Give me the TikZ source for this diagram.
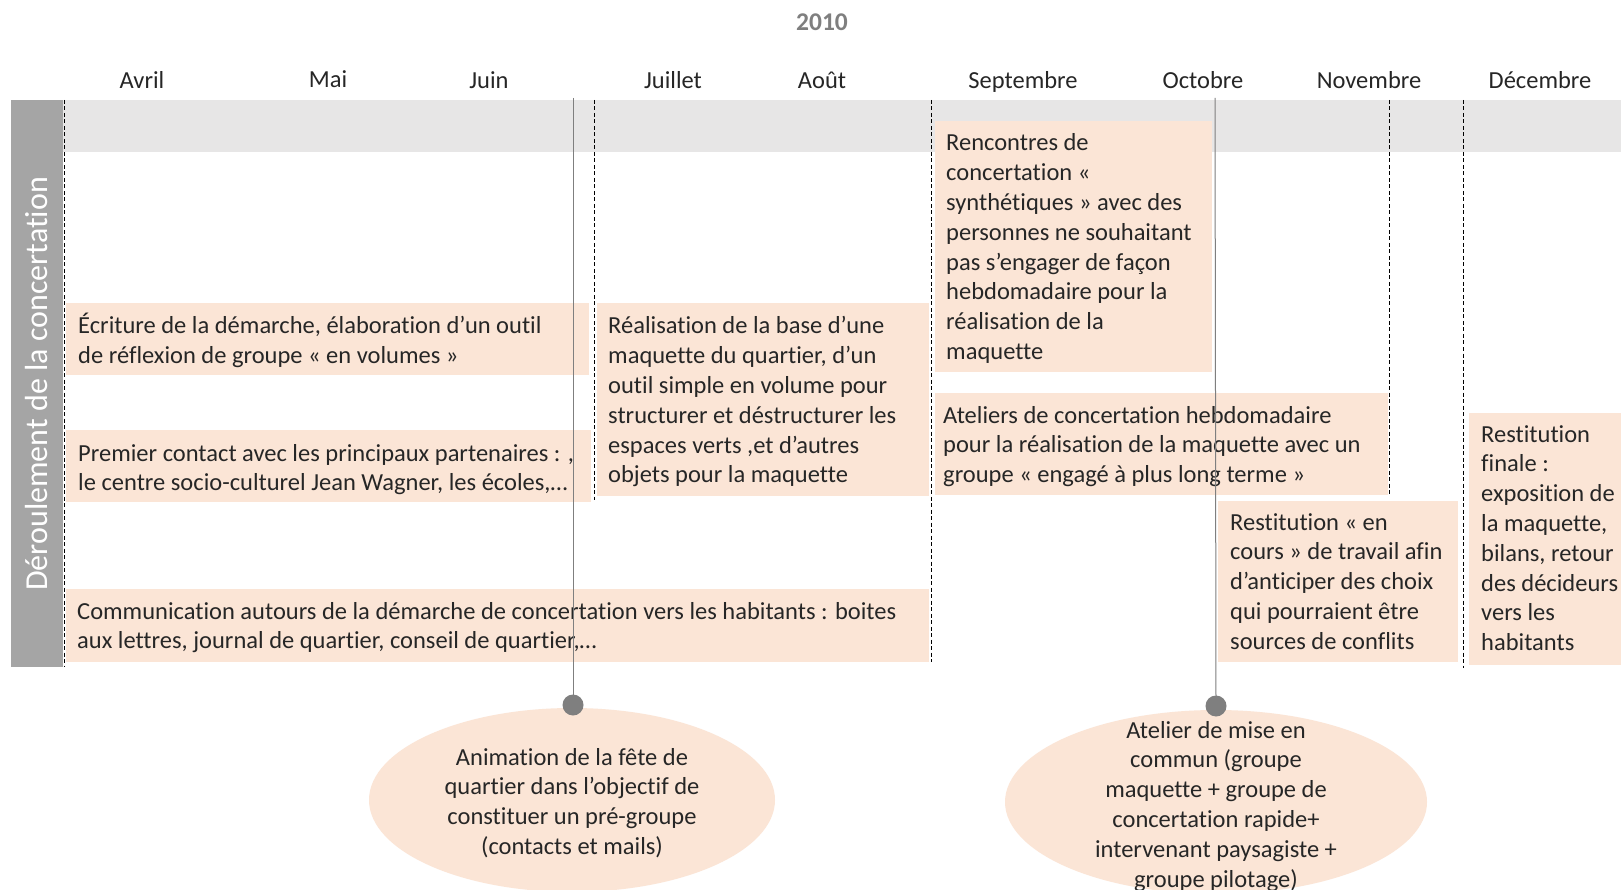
\documentclass[tikz,border=0pt]{standalone}
\usepackage{fontspec}
\setmainfont{Carlito}[Ligatures=NoCommon]
\usetikzlibrary{shapes.geometric}
\definecolor{peach}{HTML}{FBE5D6}
\definecolor{bandgray}{HTML}{E7E6E6}
\definecolor{sidegray}{HTML}{A5A5A5}
\definecolor{dotgray}{HTML}{7F7F7F}
\definecolor{txt}{HTML}{262626}
\newcommand{\ltab}[1]{\begin{tabular}[t]{@{}l@{}}#1\end{tabular}}
\newcommand{\ctab}[1]{\begin{tabular}[t]{@{}c@{}}#1\end{tabular}}
\begin{document}
\begin{tikzpicture}[x=1pt,y=-1pt,
  boxfill/.style={rectangle, fill=peach, draw=none, inner sep=0, anchor=north west},
  btext/.style={anchor=base west, inner sep=0, text=txt, font=\fontsize{24.5}{29.8}\selectfont},
  ctext/.style={anchor=base, inner sep=0, text=txt, font=\fontsize{24.5}{29.8}\selectfont},
  month/.style={anchor=base, inner sep=0, text=txt, font=\fontsize{24.5}{29.8}\selectfont},
  dashline/.style={draw=black, dash pattern=on 4pt off 2.5pt, line width=1pt},
  solidline/.style={draw=dotgray, line width=1pt},
  dotnode/.style={circle, fill=dotgray, minimum size=21pt, inner sep=0},
  bubble/.style={ellipse, fill=peach, draw=none, inner sep=0}]
\useasboundingbox (0,0) rectangle (1621,890);
\fill[white] (0,0) rectangle (1621,890);
% header band and side bar
\fill[bandgray] (63,100) rectangle (1621,152);
\fill[sidegray] (11,100) rectangle (63,667);
\node[rotate=90, text=white, inner sep=0, font=\fontsize{32}{38}\selectfont] (side) at (37,384) {Déroulement de la concertation};
% title and months
\node[anchor=base, inner sep=0, text=dotgray, font=\fontsize{25.5}{30}\selectfont\bfseries] (year) at (822,31) {2010};
\node[month] (m4) at (142,89) {Avril};
\node[month] (m5) at (328,88) {Mai};
\node[month] (m6) at (489,89) {Juin};
\node[month] (m7) at (673,89) {Juillet};
\node[month] (m8) at (822,89) {Août};
\node[month] (m9) at (1023,89) {Septembre};
\node[month] (m10) at (1203,89) {Octobre};
\node[month] (m11) at (1369,89) {Novembre};
\node[month] (m12) at (1540,89) {Décembre};
% boxes
\node[boxfill, minimum width=523pt, minimum height=72pt] (r1) at (66,303) {};
\node[boxfill, minimum width=525pt, minimum height=72pt] (r2) at (66,430) {};
\node[boxfill, minimum width=863pt, minimum height=73pt] (r3) at (66,589) {};
\node[boxfill, minimum width=332pt, minimum height=193pt] (r4) at (597,303) {};
\node[boxfill, minimum width=277pt, minimum height=251pt] (r5) at (935,121) {};
\node[boxfill, minimum width=453pt, minimum height=102pt] (r6) at (935,393) {};
\node[boxfill, minimum width=240pt, minimum height=161pt] (r7) at (1218,501) {};
\node[boxfill, minimum width=170pt, minimum height=252pt] (r8) at (1469,413) {};
% box texts
\node[btext] (t1) at (78,334) {\ltab{Écriture de la démarche, élaboration d’un outil\\de réflexion de groupe « en volumes »}};
\node[btext] (t2) at (78,461) {\ltab{Premier contact avec les principaux partenaires : ,\\le centre socio-culturel Jean Wagner, les écoles,…}};
\node[btext] (t3) at (77,619) {\ltab{Communication autours de la démarche de concertation vers les habitants : boites\\aux lettres, journal de quartier, conseil de quartier,…}};
\node[btext] (t4) at (608,334) {\ltab{Réalisation de la base d’une\\maquette du quartier, d’un\\outil simple en volume pour\\structurer et déstructurer les\\espaces verts ,et d’autres\\objets pour la maquette}};
\node[btext] (t5) at (946,151) {\ltab{Rencontres de\\concertation «\\synthétiques » avec des\\personnes ne souhaitant\\pas s'engager de façon\\hebdomadaire pour la\\réalisation de la\\maquette}};
\node[btext] (t6) at (943,423) {\ltab{Ateliers de concertation hebdomadaire\\pour la réalisation de la maquette avec un\\groupe « engagé à plus long terme »}};
\node[btext] (t7) at (1230,530) {\ltab{Restitution « en\\cours » de travail afin\\d’anticiper des choix\\qui pourraient être\\sources de conflits}};
\node[btext] (t8) at (1481,442) {\ltab{Restitution\\finale :\\exposition de\\la maquette,\\bilans, retour\\des décideurs\\vers les\\habitants}};
% ellipses
\node[bubble, minimum width=406pt, minimum height=184pt] (e1) at (572,800) {};
\node[bubble, minimum width=422pt, minimum height=184pt] (e2) at (1216,802) {};
\node[ctext] (et1) at (572,765) {\ctab{Animation de la fête de\\quartier dans l’objectif de\\constituer un pré-groupe\\(contacts et mails)}};
\node[ctext] (et2) at (1216,738) {\ctab{Atelier de mise en\\commun (groupe\\maquette + groupe de\\concertation rapide+\\intervenant paysagiste +\\groupe pilotage)}};
% dashed month separators
\coordinate (d1a) at (64,100); \coordinate (d1b) at (64,667);
\coordinate (d2a) at (594,100); \coordinate (d2b) at (594,500);
\coordinate (d3a) at (931,100); \coordinate (d3b) at (931,662);
\coordinate (d4a) at (1389,100); \coordinate (d4b) at (1389,496);
\coordinate (d5a) at (1463,100); \coordinate (d5b) at (1463,668);
\draw[dashline] (d1a) -- (d1b);
\draw[dashline] (d2a) -- (d2b);
\draw[dashline] (d3a) -- (d3b);
\draw[dashline] (d4a) -- (d4b);
\draw[dashline] (d5a) -- (d5b);
% event markers
\node[dotnode] (dot1) at (573,705) {};
\node[dotnode] (dot2) at (1216,706) {};
\coordinate (top1) at (573,98);
\coordinate (top2) at (1215,98);
\draw[solidline] (top1) -- (dot1.center);
\draw[solidline] (top2) -- (dot2.center);
\end{tikzpicture}
\end{document}
